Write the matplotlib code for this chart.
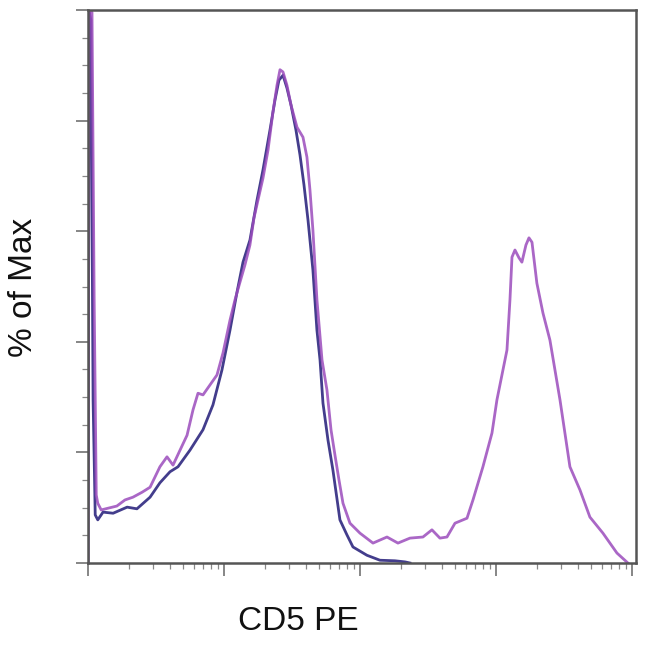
import matplotlib
matplotlib.use("Agg")
import matplotlib.pyplot as plt
from matplotlib.ticker import LogLocator, NullFormatter

# CD5 PE intensity (arbitrary units) and % of Max
stained_x = [10, 10.2, 10.7, 11.1, 11.5, 11.8, 12.5, 14.0, 16.3, 18.7, 21.4, 25.0, 28.6, 33.8,
             38.1, 42.2, 47.5, 53.5, 59.2, 64.4, 70.1, 78.9, 88.8, 98.4, 110.7, 120.5, 131.2,
             142.6, 155.2, 166.2, 177.8, 193.6, 210.9, 229.3, 245.4, 258.2, 271.6, 290.4, 311.2,
             344.4, 381.0, 407.4, 428.7, 450.8, 482.6, 526.0, 571.7, 612.4, 655.0, 701.2, 750.2,
             844.3, 1000, 1247, 1580, 1903, 2332, 2906, 3383, 3873, 4364, 5000, 6125, 6778, 8022,
             9350, 10170, 11070, 12050, 12680, 13120, 13800, 14760, 15520, 16620, 17490, 18410,
             20000, 22170, 24950, 29580, 35000, 41500, 49100, 61200, 77600, 93400]
stained_y = [0, 100, 99.6, 47.6, 12.3, 10.8, 9.6, 9.9, 10.3, 11.4, 11.9, 12.8, 13.7, 17.4,
             19.2, 17.7, 20.4, 23.1, 27.7, 30.7, 30.4, 32.2, 34.0, 38.0, 43.9, 47.6, 50.8,
             53.9, 57.5, 62.4, 65.6, 69.6, 74.7, 81.6, 86.4, 89.2, 88.8, 86.4, 82.8,
             78.8, 77.0, 73.4, 67.5, 60.2, 47.6, 36.7, 31.3, 24.1, 19.5, 15.0, 10.8,
             7.2, 5.4, 3.6, 4.7, 3.6, 4.5, 4.7, 6.0, 4.5, 4.7, 7.2, 8.1, 11.4, 17.4,
             23.5, 29.5, 34.0, 38.5, 47.6, 55.3, 56.6, 55.2, 54.4, 57.5, 58.8, 58.0,
             50.6, 45.2, 40.3, 29.5, 17.4, 13.2, 8.3, 5.4, 1.8, 0]

control_x = [10, 10.2, 10.5, 10.9, 11.3, 11.8, 12.9, 15.3, 19.4, 22.9, 28.6, 33.8, 40.1, 45.9,
             56.2, 70.1, 83.0, 96.6, 110.7, 124.7, 138.0, 155.2, 174.9, 193.6, 217.9, 237.1,
             253.6, 271.6, 290.4, 311.2, 338.3, 362.2, 387.4, 414.9, 450.8, 482.6, 508.6,
             534.6, 582.1, 632.7, 712.4, 801.7, 888.2, 1125, 1403, 1808, 2143, 2332]
control_y = [0, 99.6, 98.2, 29.5, 8.7, 7.8, 9.2, 9.0, 10.1, 9.8, 11.9, 14.5, 16.5, 17.4,
             20.4, 24.1, 28.6, 34.9, 42.1, 49.0, 54.4, 58.4, 65.6, 71.1, 78.3, 83.7,
             87.3, 88.2, 85.9, 82.8, 78.3, 73.8, 68.4, 62.0, 53.0, 42.1, 36.7,
             28.9, 22.2, 16.8, 7.8, 5.1, 2.9, 1.4, 0.5, 0.4, 0.2, 0]

x_label = "CD5 PE"
y_label = "% of Max"

fig = plt.figure(figsize=(6.5, 6.54), dpi=100)
ax = fig.add_axes([88 / 650, 1 - 563 / 654, (636 - 88) / 650, (563 - 10) / 654])

ax.plot(control_x, control_y, color="#433d8c", lw=2.0, solid_joinstyle="round")
ax.plot(stained_x, stained_y, color="#9b4cbc", lw=2.0, alpha=0.85, solid_joinstyle="round")

ax.set_xscale("log")
ax.set_xlim(10, 10 ** 5.03)
ax.set_ylim(0, 100)
ax.xaxis.set_major_locator(LogLocator(base=10, numticks=10))
ax.xaxis.set_minor_locator(LogLocator(base=10, subs=range(2, 10), numticks=100))
ax.xaxis.set_major_formatter(NullFormatter())
ax.xaxis.set_minor_formatter(NullFormatter())
ax.set_yticks(range(0, 101, 20))
ax.set_yticks(range(0, 101, 5), minor=True)
ax.set_yticklabels([])

for s in ax.spines.values():
    s.set_color("#555555")
    s.set_linewidth(1.8)
ax.tick_params(which="major", length=9, width=1.1, color="#666666", direction="out")
ax.tick_params(which="minor", length=4, width=0.9, color="#888888", direction="out")

fig.text(298 / 650, 1 - 622 / 654, x_label, ha="center", va="center",
         fontsize=24, family=["Liberation Sans", "DejaVu Sans"], color="#111111")
fig.text(24 / 650, 1 - 287 / 654, y_label, ha="center", va="center", rotation=90,
         fontsize=24, family=["Liberation Sans", "DejaVu Sans"], color="#111111")

fig.savefig("out.png", dpi=100)
